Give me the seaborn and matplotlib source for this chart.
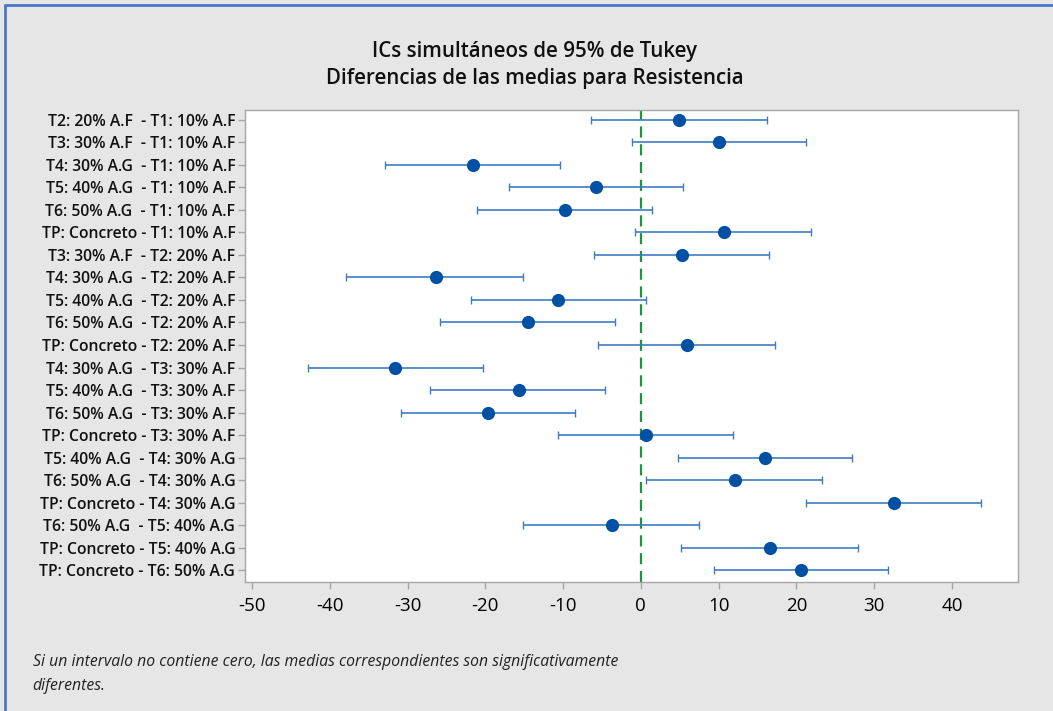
import numpy as np
import pandas as pd
import matplotlib.pyplot as plt
import seaborn as sns

# Tukey simultaneous 95% CIs - differences of means for Resistencia
comparisons = [
    "T2: 20% A.F  - T1: 10% A.F",
    "T3: 30% A.F  - T1: 10% A.F",
    "T4: 30% A.G  - T1: 10% A.F",
    "T5: 40% A.G  - T1: 10% A.F",
    "T6: 50% A.G  - T1: 10% A.F",
    "TP: Concreto - T1: 10% A.F",
    "T3: 30% A.F  - T2: 20% A.F",
    "T4: 30% A.G  - T2: 20% A.F",
    "T5: 40% A.G  - T2: 20% A.F",
    "T6: 50% A.G  - T2: 20% A.F",
    "TP: Concreto - T2: 20% A.F",
    "T4: 30% A.G  - T3: 30% A.F",
    "T5: 40% A.G  - T3: 30% A.F",
    "T6: 50% A.G  - T3: 30% A.F",
    "TP: Concreto - T3: 30% A.F",
    "T5: 40% A.G  - T4: 30% A.G",
    "T6: 50% A.G  - T4: 30% A.G",
    "TP: Concreto - T4: 30% A.G",
    "T6: 50% A.G  - T5: 40% A.G",
    "TP: Concreto - T5: 40% A.G",
    "TP: Concreto - T6: 50% A.G",
]
diff_mean = [4.9, 10.1, -21.6, -5.8, -9.8, 10.7, 5.3, -26.4, -10.6, -14.5, 5.9,
             -31.6, -15.7, -19.7, 0.7, 16.0, 12.1, 32.5, -3.7, 16.6, 20.6]
ci_lower = [-6.4, -1.2, -32.9, -17.0, -21.1, -0.7, -6.0, -37.9, -21.8, -25.8, -5.5,
            -42.8, -27.1, -30.9, -10.6, 4.8, 0.7, 21.2, -15.1, 5.1, 9.4]
ci_upper = [16.2, 21.2, -10.4, 5.4, 1.4, 21.9, 16.5, -15.1, 0.7, -3.3, 17.2,
            -20.3, -4.6, -8.5, 11.9, 27.2, 23.3, 43.7, 7.5, 27.9, 31.8]
x_ticks = [-50, -40, -30, -20, -10, 0, 10, 20, 30, 40]

df = pd.DataFrame({"comp": comparisons, "mean": diff_mean,
                   "lo": ci_lower, "hi": ci_upper})

sns.set_style("white")
plt.rcParams['font.family'] = ['Open Sans', 'DejaVu Sans']

bg = "#e6e6e6"
fig = plt.figure(figsize=(10.53, 7.11), dpi=100, facecolor=bg)
ax = fig.add_axes([0.2327, 0.1814, 0.7341, 0.6639])
ax.set_facecolor("white")

pos = np.arange(len(df))
ax.errorbar(df["mean"], pos,
            xerr=[df["mean"] - df["lo"], df["hi"] - df["mean"]],
            fmt='none', ecolor="#3f7bc0", elinewidth=1.2, capsize=3, capthick=1.0)
sns.stripplot(data=df, x="mean", y="comp", order=comparisons, jitter=False,
              color="#0050a4", size=9.5, linewidth=0, ax=ax, zorder=3)

ax.axvline(0, color="#1a9641", linestyle=(0, (5, 3)), linewidth=1.6, zorder=1)

ax.set_xlim(-50.9, 48.5)
ax.set_ylim(len(df) - 1 + 0.53, -0.44)
ax.set_xticks(x_ticks)
ax.set_xticklabels([str(t) for t in x_ticks])
ax.set_xlabel("")
ax.set_ylabel("")

for s in ax.spines.values():
    s.set_color("#a6a6a6")
    s.set_linewidth(1.0)
ax.tick_params(axis='x', which='both', bottom=True, length=5, width=1,
               color="#a6a6a6", labelsize=13.5, labelcolor="#000000", pad=6)
ax.tick_params(axis='y', which='both', left=True, length=5, width=1,
               color="#a6a6a6", labelsize=11.3, labelcolor="#111111", pad=2)
for lbl in ax.get_yticklabels():
    lbl.set_fontweight('semibold')

fig.text(0.508, 0.928, "ICs simultáneos de 95% de Tukey", ha='center', va='center',
         fontsize=14.8, fontweight='semibold', color="#111111")
fig.text(0.508, 0.889, "Diferencias de las medias para Resistencia", ha='center',
         va='center', fontsize=14.8, fontweight='semibold', color="#111111")

fig.text(0.031, 0.069, "Si un intervalo no contiene cero, las medias correspondientes son significativamente",
         ha='left', va='center', fontsize=11.3, style='italic', color="#222222")
fig.text(0.031, 0.035, "diferentes.", ha='left', va='center', fontsize=11.3,
         style='italic', color="#222222")

# window frame lines (left and top)
fig.add_artist(plt.Line2D([0.005, 0.005], [0, 0.993], color="#4a78c8", linewidth=2,
                          transform=fig.transFigure))
fig.add_artist(plt.Line2D([0.005, 1], [0.993, 0.993], color="#4a78c8", linewidth=2,
                          transform=fig.transFigure))

fig.savefig("out.png", dpi=100, facecolor=bg)
